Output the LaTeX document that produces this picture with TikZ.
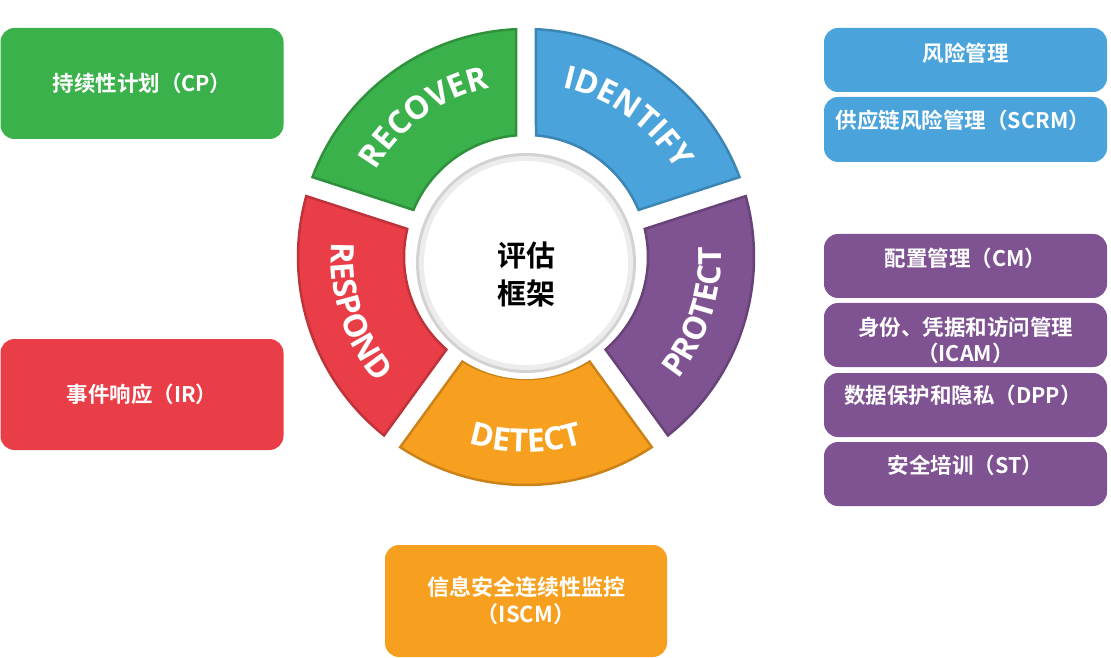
\documentclass[tikz,border=0pt]{standalone}
\usepackage{fontspec}
\setmainfont{Noto Sans CJK SC}[BoldFont={Noto Sans CJK SC Bold}]
\newfontfamily\wheelfont{Open Sans}[BoldFont={Open Sans Bold}]
\usetikzlibrary{decorations.text}
\definecolor{cpgreen}{RGB}{58,177,74}
\definecolor{irred}{RGB}{233,62,71}
\definecolor{rmblue}{RGB}{74,163,219}
\definecolor{cmpurple}{RGB}{127,82,146}
\definecolor{scorange}{RGB}{247,160,31}
\newcommand{\wfont}{\wheelfont\bfseries\fontsize{32}{32}\selectfont}
\begin{document}
\begin{tikzpicture}[x=1pt, y=1pt,
    box/.style={rounded corners=14pt, minimum width=283pt, inner sep=0pt},
    wtext/.style={text=white, font=\bfseries\fontsize{21.5}{26}\selectfont, align=center},
    seglabel/.style={decorate, decoration={text along path, text align=center, text color=white}}]
    \useasboundingbox (0,0) rectangle (1111,657);

    % 左侧和下方的大框
    \node[box, fill=cpgreen, minimum height=111pt, wtext] (cp) at (142,573.5) {持续性计划（CP）};
    \node[box, fill=irred, minimum height=111pt, wtext] (ir) at (142,262.5) {事件响应（IR）};
    \node[box, fill=scorange, minimum width=282pt, minimum height=112pt, wtext,
          font=\bfseries\fontsize{22}{27}\selectfont] (iscm) at (526,56) {信息安全连续性监控\\（ISCM）};

    % 右侧的小框
    \node[box, fill=rmblue, minimum height=64pt] (rm) at (965.5,597) {};
    \node[box, fill=rmblue, minimum height=65pt] (scrm) at (965.5,527.5) {};
    \node[box, fill=cmpurple, minimum height=64pt] (cm) at (965.5,391) {};
    \node[box, fill=cmpurple, minimum height=64pt] (icam) at (965.5,322) {};
    \node[box, fill=cmpurple, minimum height=64pt] (dpp) at (965.5,252) {};
    \node[box, fill=cmpurple, minimum height=64pt] (st) at (965.5,183) {};
    \node[wtext] (rmt) at (965.5,604) {风险管理};
    \node[wtext] (scrmt) at (963,537) {供应链风险管理（SCRM）};
    \node[wtext] (cmt) at (965.5,399) {配置管理（CM）};
    \node[wtext] (icamt) at (965.5,316.5) {身份、凭据和访问管理\\（ICAM）};
    \node[wtext] (dppt) at (963,262) {数据保护和隐私（DPP）};
    \node[wtext] (stt) at (965.5,192) {安全培训（ST）};

    \begin{scope}[shift={(526,400)}]
        % 五个扇区, 间隙宽 20
        \fill[cpgreen, draw=cpgreen!82!black, line width=2.5pt] (94.70:122) -- (92.51:228)
            arc[start angle=92.51, end angle=159.49, radius=228] -- (157.30:122)
            arc[start angle=157.30, end angle=94.70, radius=122] -- cycle;
        \fill[rmblue, draw=rmblue!82!black, line width=2.5pt] (22.70:122) -- (20.51:228)
            arc[start angle=20.51, end angle=87.49, radius=228] -- (85.30:122)
            arc[start angle=85.30, end angle=22.70, radius=122] -- cycle;
        \fill[cmpurple, draw=cmpurple!82!black, line width=2.5pt] (-49.30:122) -- (-51.49:228)
            arc[start angle=-51.49, end angle=15.49, radius=228] -- (13.30:122)
            arc[start angle=13.30, end angle=-49.30, radius=122] -- cycle;
        \fill[scorange, draw=scorange!82!black, line width=2.5pt] (-121.30:122) -- (-123.49:228)
            arc[start angle=-123.49, end angle=-56.51, radius=228] -- (-58.70:122)
            arc[start angle=-58.70, end angle=-121.30, radius=122] -- cycle;
        \fill[irred, draw=irred!82!black, line width=2.5pt] (166.70:122) -- (164.51:228)
            arc[start angle=164.51, end angle=231.49, radius=228] -- (229.30:122)
            arc[start angle=229.30, end angle=166.70, radius=122] -- cycle;

        % 扇区文字
        \path[seglabel, decoration={text={|\wfont|RECOVER}}] (160:173) arc[start angle=160, end angle=92, radius=173];
        \path[seglabel, decoration={text={|\wfont|IDENTIFY}}] (88:173) arc[start angle=88, end angle=20, radius=173];
        \path[seglabel, decoration={text={|\wfont|PROTECT}}] (-52:195) arc[start angle=-52, end angle=16, radius=195];
        \path[seglabel, decoration={text={|\wfont|DETECT}}] (-124:195) arc[start angle=-124, end angle=-56, radius=195];
        \path[seglabel, decoration={text={|\wfont|RESPOND}}] (164:195) arc[start angle=164, end angle=232, radius=195];

        % 中心圆
        \fill[white] (0,-6) circle[radius=116];
        \fill[gray!35] (0,-6) circle[radius=110];
        \fill[gray!15] (0,-6) circle[radius=107];
        \fill[white] (0,-6) circle[radius=102];
        \node[font=\bfseries\fontsize{29}{38}\selectfont, align=center] (core) at (0,-17) {评估\\框架};
    \end{scope}
\end{tikzpicture}
\end{document}
